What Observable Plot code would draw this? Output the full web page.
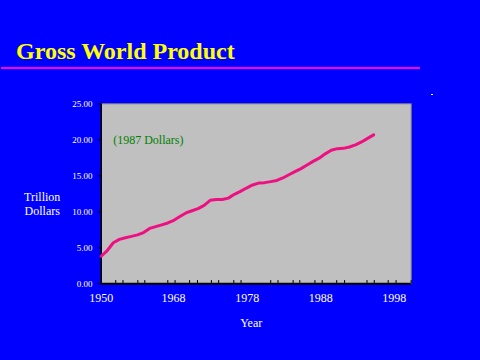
<!DOCTYPE html>
<html>
<head>
<meta charset="utf-8">
<script src="https://cdn.jsdelivr.net/npm/d3@7"></script>
<script src="https://cdn.jsdelivr.net/npm/@observablehq/plot@0.6"></script>
<style>
  html, body { margin: 0; padding: 0; background: #0000ff; }
  #page { position: relative; width: 480px; height: 360px; background: #0000ff; overflow: hidden; font-family: "Liberation Serif", "Times New Roman", serif; }
  #title { position: absolute; left: 16px; top: 39px; line-height: 24px; font-size: 24px; font-weight: bold; color: #ffff00; white-space: nowrap; }
  #rule { position: absolute; left: 1px; top: 67px; width: 419px; height: 2px; background: #ff00ff; }
  #dash { position: absolute; left: 431px; top: 94px; width: 2px; height: 1px; background: #ffffff; }
  #chart { position: absolute; left: 0; top: 75px; }
</style>
</head>
<body>
<div id="page">
  <div id="title">Gross World Product</div>
  <div id="rule"></div>
  <div id="dash"></div>
  <div id="chart"></div>
</div>
<script>
// Data (trillion 1987 dollars)
const years = d3.range(1950, 1996);
const values = [
  3.83, 4.62, 5.70, 6.17, 6.40, 6.59, 6.79, 7.12, 7.69, 7.95,
  8.19, 8.45, 8.82, 9.35, 9.84, 10.15, 10.45, 10.90, 11.60, 11.71,
  11.71, 11.90, 12.43, 12.83, 13.30, 13.73, 13.99, 14.05, 14.19, 14.35,
  14.70, 15.15, 15.57, 16.00, 16.50, 17.00, 17.45, 18.05, 18.55, 18.77,
  18.81, 19.00, 19.30, 19.70, 20.20, 20.69
];
const yTicks = [0, 5, 10, 15, 20, 25];
const xLabels = ["1950", "1968", "1978", "1988", "1998"];
const xLabelYears = [1950, 1961.95, 1974.13, 1986.25, 1998.4];
const xMinorTicks = [1952.4, 1953.6, 1956.05, 1957.2, 1961.0, 1962.2, 1964.6, 1965.9,
  1968.2, 1969.4, 1971.9, 1973.1, 1978.0, 1979.2, 1981.7, 1982.8, 1985.3, 1986.5,
  1988.9, 1990.2, 1993.9, 1995.1, 1997.4, 1998.7, 2001.2];
const yLabel = "Trillion\nDollars";
const xLabel = "Year";
const note = "(1987 Dollars)";

const data = years.map((y, i) => ({year: y, value: values[i]}));
const labelData = xLabelYears.map((y, i) => ({year: y, label: xLabels[i]}));

const chart = Plot.plot({
  width: 480,
  height: 285,
  marginLeft: 100.7,
  marginRight: 69.3,
  marginTop: 28.3,
  marginBottom: 76.7,
  x: {domain: [1950, 2001.2], axis: null},
  y: {domain: [0, 25]},
  style: {background: "transparent", fontFamily: "'Liberation Serif', 'Times New Roman', serif", color: "white", overflow: "visible"},
  marks: [
    Plot.frame({fill: "#c0c0c0", stroke: null}),
    Plot.ruleY([25], {stroke: "#808080", strokeWidth: 1}),
    Plot.ruleX([2001.2], {stroke: "#808080", strokeWidth: 1}),
    Plot.axisY({ticks: yTicks, tickFormat: d => d.toFixed(2), tickSize: 3, tickPadding: 5.7, fontSize: 9, stroke: "black", fill: "white", label: null}),
    Plot.ruleX(xMinorTicks, {y1: 0, y2: 0.45, stroke: "black", strokeWidth: 1}),
    Plot.ruleY([0], {stroke: "black", strokeWidth: 2}),
    Plot.ruleX([1950], {stroke: "black", strokeWidth: 1.6}),
    Plot.text(labelData, {x: "year", y: 0, text: "label", dy: 14, lineAnchor: "middle", fill: "white", fontSize: 12}),
    Plot.line(data, {x: "year", y: "value", stroke: "#ee1080", strokeWidth: 3, strokeLinejoin: "round", strokeLinecap: "round"}),
    Plot.text([note], {frameAnchor: "top-left", dx: 12, dy: 36, lineAnchor: "middle", textAnchor: "start", fill: "#008000", fontSize: 12}),
    Plot.text([yLabel], {frameAnchor: "left", dx: -59, dy: 10, lineAnchor: "middle", textAnchor: "middle", fill: "white", fontSize: 12, lineHeight: 1.15}),
    Plot.text([xLabel], {frameAnchor: "bottom", dx: -5, dy: 39, lineAnchor: "middle", textAnchor: "middle", fill: "white", fontSize: 12})
  ]
});
document.getElementById("chart").appendChild(chart);
</script>
</body>
</html>
